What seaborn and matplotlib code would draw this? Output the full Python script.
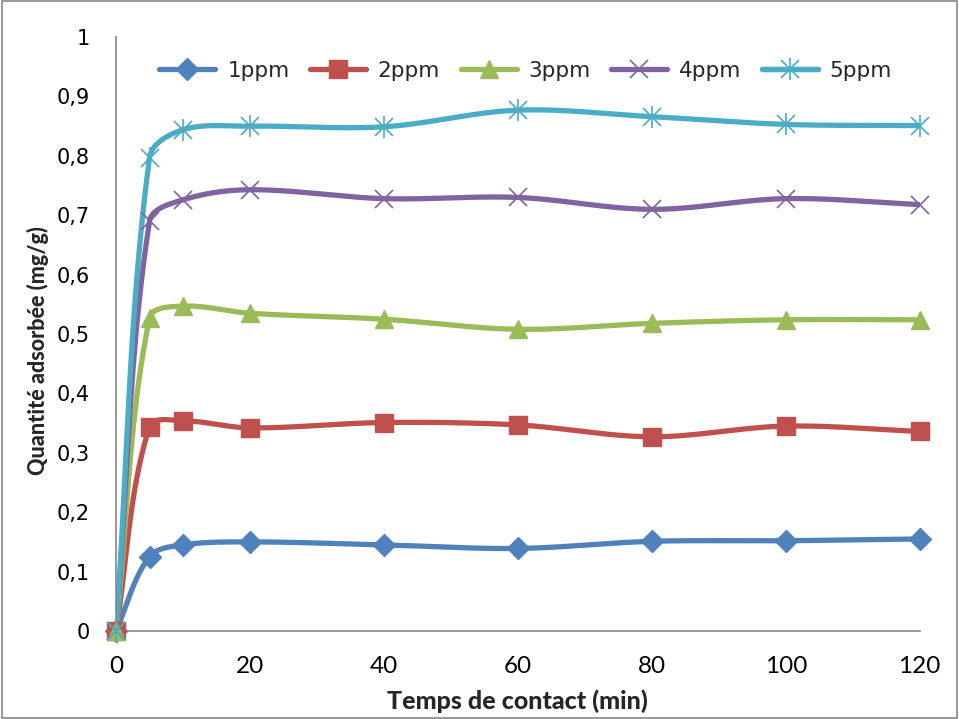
import numpy as np
import pandas as pd
import matplotlib
matplotlib.use("Agg")
import matplotlib.pyplot as plt
import seaborn as sns
from matplotlib.lines import Line2D
from matplotlib.patches import Rectangle

# Contact time (min) and adsorbed quantity (mg/g) for each initial concentration
temps = [0, 5, 10, 20, 40, 60, 80, 100, 120]
q_1ppm = [0, 0.125, 0.145, 0.150, 0.145, 0.139, 0.151, 0.152, 0.155]
q_2ppm = [0, 0.344, 0.354, 0.342, 0.351, 0.347, 0.327, 0.345, 0.336]
q_3ppm = [0, 0.527, 0.547, 0.535, 0.525, 0.508, 0.518, 0.524, 0.524]
q_4ppm = [0, 0.690, 0.726, 0.743, 0.728, 0.730, 0.710, 0.728, 0.718]
q_5ppm = [0, 0.797, 0.844, 0.850, 0.849, 0.877, 0.866, 0.853, 0.851]
series_names = ["1ppm", "2ppm", "3ppm", "4ppm", "5ppm"]
series_values = [q_1ppm, q_2ppm, q_3ppm, q_4ppm, q_5ppm]

colors = ["#4F81BD", "#C0504D", "#9BBB59", "#8064A2", "#4BACC6"]

X_MAX, Y_MAX = 120.0, 1.0
PLOT_W, PLOT_H = 804.0, 594.0   # approximate plot size in pixels, for isotropic smoothing


def smooth_curve(x, y, n=60):
    """Chord-length Bezier smoothing through the points (spreadsheet-style smoothed line)."""
    p = np.column_stack([np.asarray(x, float) / X_MAX * PLOT_W,
                         np.asarray(y, float) / Y_MAX * PLOT_H])
    m = len(p)
    tangents = []
    for i in range(m):
        a = p[max(i - 1, 0)]
        b = p[min(i + 1, m - 1)]
        d = b - a
        nrm = np.hypot(*d)
        tangents.append(d / nrm if nrm > 0 else d)
    out = []
    for i in range(m - 1):
        p1, p2 = p[i], p[i + 1]
        L = np.hypot(*(p2 - p1)) / 3.0
        c1 = p1 + tangents[i] * L
        c2 = p2 - tangents[i + 1] * L
        t = np.linspace(0, 1, n, endpoint=(i == m - 2))[:, None]
        seg = ((1 - t) ** 3) * p1 + 3 * ((1 - t) ** 2) * t * c1 + 3 * (1 - t) * t ** 2 * c2 + t ** 3 * p2
        out.append(seg)
    out = np.vstack(out)
    return out[:, 0] / PLOT_W * X_MAX, out[:, 1] / PLOT_H * Y_MAX


sns.set_style("white")
plt.rcParams["font.family"] = ["DejaVu Sans"]
narrow = ["Lato", "DejaVu Sans"]

fig = plt.figure(figsize=(9.59, 7.19), dpi=100)
ax = fig.add_axes([0.121, 0.1224, 0.838, 0.826])

marker_specs = [
    [dict(marker="D", markersize=11)],
    [dict(marker="s", markersize=12.5)],
    [dict(marker="^", markersize=12.5)],
    [dict(marker="x", markersize=13, markeredgewidth=1.2)],
    [dict(marker="x", markersize=13, markeredgewidth=1.2), dict(marker="|", markersize=16, markeredgewidth=1.2)],
]

legend_handles = []
for name, vals, col, mspecs in zip(series_names, series_values, colors, marker_specs):
    sx, sy = smooth_curve(temps, vals)
    df = pd.DataFrame({"t": sx, "q": sy})
    sns.lineplot(data=df, x="t", y="q", sort=False, estimator=None, ax=ax,
                 color=col, linewidth=3.8, solid_capstyle="round", zorder=2)
    handles = []
    for ms in mspecs:
        filled = ms["marker"] in ("D", "s", "^")
        ax.plot(temps, vals, linestyle="none", color=col, zorder=3, clip_on=False,
                markeredgecolor=col, markerfacecolor=col if filled else "none", **ms)
        handles.append(Line2D([], [], linestyle="-", linewidth=3.8, color=col,
                              solid_capstyle="round",
                              markerfacecolor=col if filled else "none",
                              markeredgecolor=col, **ms))
    legend_handles.append(tuple(handles))

ax.set_xlim(0, 120)
ax.set_ylim(0, 1)
ax.set_xticks(np.arange(0, 121, 20))
yt = np.round(np.arange(0, 1.01, 0.1), 1)
ax.set_yticks(yt)
ax.set_yticklabels(["0" if v == 0 else ("1" if v == 1 else f"{v:.1f}".replace(".", ",")) for v in yt])
ax.set_xticklabels([str(v) for v in range(0, 121, 20)], fontfamily=narrow)

for side in ["top", "right"]:
    ax.spines[side].set_visible(False)
for side in ["left", "bottom"]:
    ax.spines[side].set_color("#868686")
    ax.spines[side].set_linewidth(1.2)
ax.tick_params(axis="both", which="both", direction="out", length=7, width=1.2,
               color="#868686", labelcolor="black")
ax.tick_params(axis="y", labelsize=15, pad=12)
ax.tick_params(axis="x", labelsize=17.5, pad=11)

ax.set_xlabel("Temps de contact (min)", fontsize=18, fontweight="black",
              fontfamily=narrow, labelpad=9)
ax.set_ylabel("Quantité adsorbée (mg/g)", fontsize=15.5, fontweight="black",
              fontfamily=narrow)
ax.yaxis.set_label_coords(-0.084, 0.472)

ax.legend(legend_handles, series_names, loc="center left", bbox_to_anchor=(0.054, 0.943),
          ncol=5, frameon=False, fontsize=15.5, handlelength=2.6, columnspacing=0.95,
          handletextpad=0.55, borderaxespad=0, borderpad=0)

fig.patches.append(Rectangle((0.002, 0.002), 0.996, 0.996, transform=fig.transFigure,
                             fill=False, edgecolor="#868686", linewidth=1.2))

fig.savefig("out.png", dpi=100)
